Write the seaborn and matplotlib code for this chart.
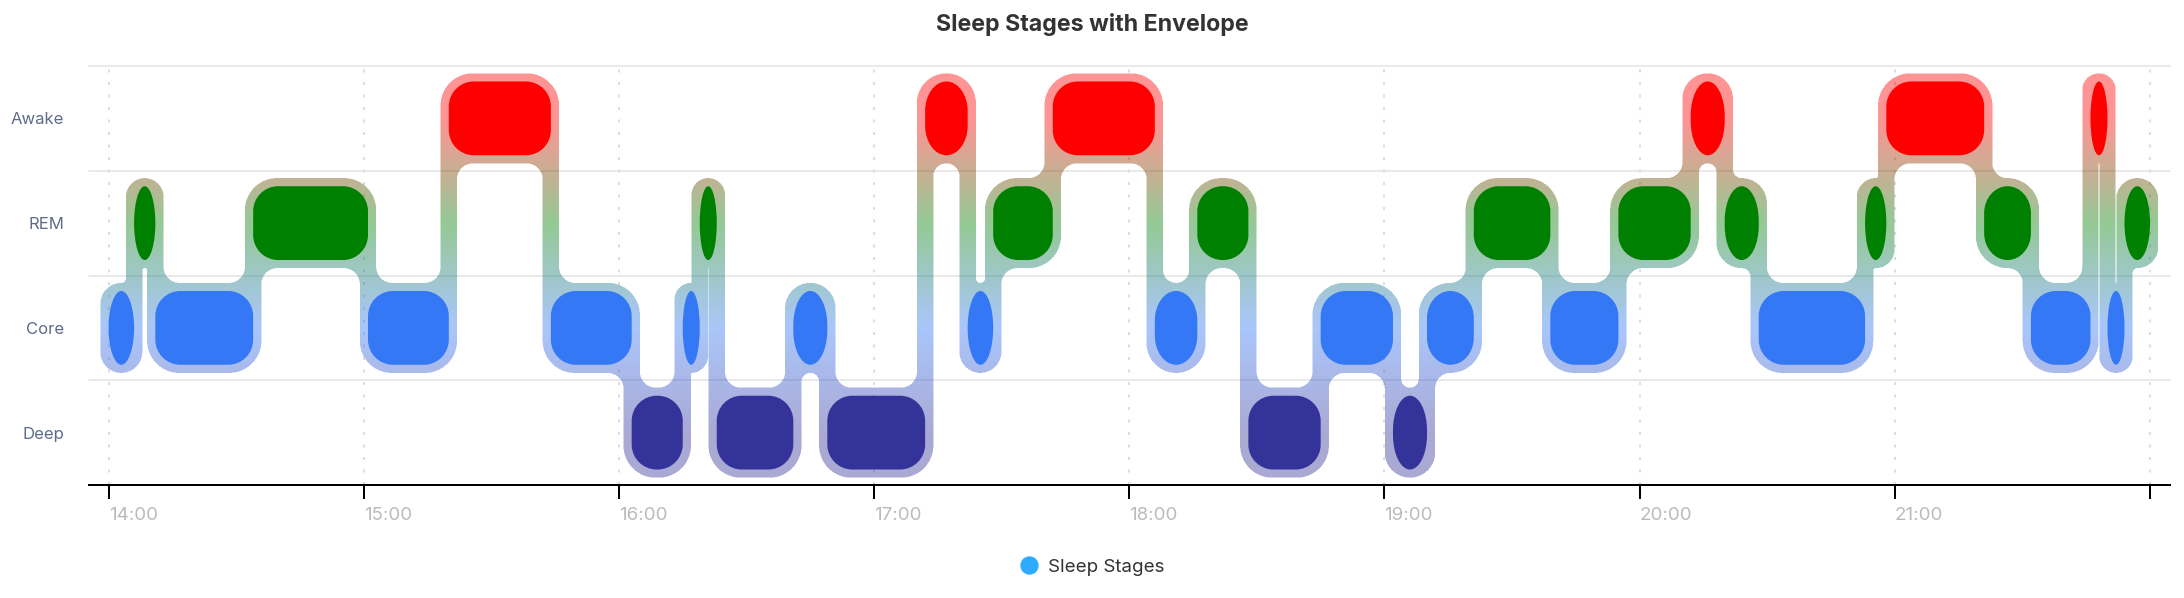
import numpy as np
import pandas as pd
import matplotlib
matplotlib.use("Agg")
import matplotlib.pyplot as plt
from matplotlib.path import Path
from matplotlib.patches import PathPatch
from matplotlib.lines import Line2D
import seaborn as sns

# stages, bottom -> top
stage_names = ["Deep", "Core", "REM", "Awake"]
stage_colors = ["#333399", "#3478f6", "#008000", "#ff0000"]

# sleep segments (start time + stage), last one ends at seg_end
seg_start = ["14:00", "14:06", "14:11", "14:34", "15:01", "15:20", "15:44", "16:03",
             "16:15", "16:19", "16:23", "16:41", "16:49", "17:12", "17:22", "17:28",
             "17:42", "18:06", "18:16", "18:28", "18:45", "19:02", "19:10", "19:21",
             "19:39", "19:55", "20:12", "20:20", "20:28", "20:53", "20:58", "21:21",
             "21:32", "21:46", "21:50", "21:54"]
seg_stage = ["Core", "REM", "Core", "REM", "Core", "Awake", "Core", "Deep",
             "Core", "REM", "Deep", "Core", "Deep", "Awake", "Core", "REM",
             "Awake", "Core", "REM", "Deep", "Core", "Deep", "Core", "REM",
             "Core", "REM", "Awake", "REM", "Core", "REM", "Awake", "REM",
             "Core", "Awake", "Core", "REM"]
seg_end = "22:00"
hour_labels = ["14:00", "15:00", "16:00", "17:00", "18:00", "19:00", "20:00", "21:00", "22:00"]

sns.set_style("white")
plt.rcParams["font.family"] = ["Inter", "DejaVu Sans"]

t0 = pd.Timestamp("2024-01-01 " + seg_start[0])
def to_min(s):
    return (pd.Timestamp("2024-01-01 " + s) - t0).total_seconds() / 60

starts = np.array([to_min(s) for s in seg_start])
ends = np.append(starts[1:], to_min(seg_end))
rows = np.array([stage_names.index(s) for s in seg_stage])
hour_pos = [to_min(h) for h in hour_labels]

W_PX, H_PX, DPI = 2184, 598, 100
fig = plt.figure(figsize=(W_PX / DPI, H_PX / DPI), dpi=DPI)
ax_l, ax_r, ax_t, ax_b = 89, 2170, 66, 485
ax_w, ax_h = ax_r - ax_l, ax_b - ax_t
ax = fig.add_axes([ax_l / W_PX, 1 - ax_b / H_PX, ax_w / W_PX, ax_h / H_PX])

x_lo, x_hi = -4.6, 484.7
y_lo, y_hi = -0.5, 3.5
sx = ax_w / (x_hi - x_lo)   # px per minute
sy = ax_h / (y_hi - y_lo)   # px per stage row

# ---- envelope mask (raster, supersampled) ----
SS = 2
gw, gh = ax_w * SS, ax_h * SS
mask = np.zeros((gh, gw), bool)
PAD, HALF, R_ENV, R_FIL = 8.2 * SS, 45 * SS, 32 * SS, 16 * SS

def gx(t):
    return (t - x_lo) * sx * SS

def gy(v):
    return (y_hi - v) * sy * SS

def window(x0, x1, y0, y1):
    j0 = max(int(np.floor(x0)), 0); j1 = min(int(np.ceil(x1)) + 1, gw)
    i0 = max(int(np.floor(y0)), 0); i1 = min(int(np.ceil(y1)) + 1, gh)
    xs = np.arange(j0, j1)[None, :] + 0.5
    ys = np.arange(i0, i1)[:, None] + 0.5
    return i0, i1, j0, j1, xs, ys

def fill_box(x0, x1, y0, y1, corners):
    i0, i1, j0, j1, xs, ys = window(x0, x1, y0, y1)
    inside = (xs >= x0) & (xs <= x1) & (ys >= y0) & (ys <= y1)
    for key, r in corners.items():
        if r <= 0:
            continue
        cx = x0 + r if key[1] == "l" else x1 - r
        cy = y0 + r if key[0] == "t" else y1 - r
        inx = xs < cx if key[1] == "l" else xs > cx
        iny = ys < cy if key[0] == "t" else ys > cy
        out = (xs - cx) ** 2 + (ys - cy) ** 2 > r * r
        inside &= ~(inx & iny & out)
    mask[i0:i1, j0:j1] |= inside

def fill_rect(x0, x1, y0, y1):
    fill_box(x0, x1, y0, y1, {})

def fillet(cx, cy, dx, dy, r):
    if r <= 0.5:
        return
    xa, xb = sorted([cx, cx + dx * r]); ya, yb = sorted([cy, cy + dy * r])
    i0, i1, j0, j1, xs, ys = window(xa, xb, ya, yb)
    ccx, ccy = cx + dx * r, cy + dy * r
    reg = (xs >= xa) & (xs <= xb) & (ys >= ya) & (ys <= yb) & \
          ((xs - ccx) ** 2 + (ys - ccy) ** 2 >= r * r)
    mask[i0:i1, j0:j1] |= reg

n = len(starts)
for k in range(n):
    x0, x1 = gx(starts[k]) - PAD, gx(ends[k]) + PAD
    yc = gy(rows[k])
    r = min(R_ENV, (x1 - x0) / 2, HALF)
    corners = {"tl": r, "tr": r, "bl": r, "br": r}
    if k > 0:
        corners["tl" if rows[k - 1] > rows[k] else "bl"] = 0
    if k < n - 1:
        corners["tr" if rows[k + 1] > rows[k] else "br"] = 0
    fill_box(x0, x1, yc - HALF, yc + HALF, corners)

for k in range(n - 1):
    t = gx(ends[k]); xl, xr = t - PAD, t + PAD
    ya, yb = gy(rows[k]), gy(rows[k + 1])
    fill_rect(xl, xr, min(ya, yb), max(ya, yb))
    down = rows[k + 1] < rows[k]
    sgn = 1 if down else -1
    a0, a1 = gx(starts[k]) - PAD, gx(ends[k]) + PAD
    if k > 0 and (rows[k - 1] < rows[k]) == down:
        avail = (xl - (a0 + 2 * PAD)) / 2
    else:
        avail = xl - (a0 + min(R_ENV, (a1 - a0) / 2))
    fillet(xl, ya + sgn * HALF, -1, sgn, min(R_FIL, avail))
    b0, b1 = gx(starts[k + 1]) - PAD, gx(ends[k + 1]) + PAD
    if k + 1 < n - 1 and (rows[k + 2] > rows[k + 1]) == down:
        avail = ((b1 - 2 * PAD) - xr) / 2
    else:
        avail = (b1 - min(R_ENV, (b1 - b0) / 2)) - xr
    fillet(xr, yb - sgn * HALF, 1, -sgn, min(R_FIL, avail))

cover = mask.reshape(ax_h, SS, ax_w, SS).mean(axis=(1, 3))
rgb_stops = np.array([matplotlib.colors.to_rgb(c) for c in stage_colors])
v = y_hi - (np.arange(ax_h) + 0.5) / sy
rgb = np.stack([np.interp(v, np.arange(4), rgb_stops[:, c]) for c in range(3)], axis=1)
img = np.zeros((ax_h, ax_w, 4))
img[..., :3] = rgb[:, None, :]
img[..., 3] = 0.42 * cover
ax.imshow(img, extent=(x_lo, x_hi, y_lo, y_hi), origin="upper", aspect="auto",
          interpolation="nearest", zorder=2)

# ---- inner stage boxes ----
K = 0.5523
def rounded_path(x0, x1, y0, y1, rx, ry):
    verts = [(x0 + rx, y0), (x1 - rx, y0),
             (x1 - rx + K * rx, y0), (x1, y0 + ry - K * ry), (x1, y0 + ry),
             (x1, y1 - ry),
             (x1, y1 - ry + K * ry), (x1 - rx + K * rx, y1), (x1 - rx, y1),
             (x0 + rx, y1),
             (x0 + rx - K * rx, y1), (x0, y1 - ry + K * ry), (x0, y1 - ry),
             (x0, y0 + ry),
             (x0, y0 + ry - K * ry), (x0 + rx - K * rx, y0), (x0 + rx, y0),
             (x0 + rx, y0)]
    codes = [Path.MOVETO, Path.LINETO] + [Path.CURVE4] * 3 + [Path.LINETO] + \
            [Path.CURVE4] * 3 + [Path.LINETO] + [Path.CURVE4] * 3 + [Path.LINETO] + \
            [Path.CURVE4] * 3 + [Path.CLOSEPOLY]
    return Path(verts, codes)

HI, R_IN = 36.9, 25
for k in range(n):
    w = (ends[k] - starts[k]) * sx
    rx = min(R_IN, w / 2)
    ry = R_IN if w >= 2 * R_IN else min(HI, R_IN + 0.6 * (2 * R_IN - w))
    p = rounded_path(starts[k], ends[k], rows[k] - HI / sy, rows[k] + HI / sy, rx / sx, ry / sy)
    ax.add_patch(PathPatch(p, facecolor=stage_colors[rows[k]], edgecolor="none", zorder=3))

# ---- grid / axes ----
for yv in [0.5, 1.5, 2.5, 3.5]:
    ax.axhline(yv, color="#e3e3e3", lw=1.1, zorder=1, clip_on=False)
for xv in hour_pos:
    ax.axvline(xv, color="#dddddd", lw=1.44, ls=(0, (1.5, 4.75)), zorder=1)

ax.set_xlim(x_lo, x_hi)
ax.set_ylim(y_lo, y_hi)
ax.set_xticks(hour_pos, hour_labels[:-1] + [""])
for lab in ax.get_xticklabels():
    lab.set_horizontalalignment("left")
ax.tick_params(axis="x", length=10, width=1.44, color="black", direction="out",
               labelsize=13.5, labelcolor="#bbbbbb", pad=6, bottom=True)
ax.set_yticks(range(4), stage_names)
ax.tick_params(axis="y", length=0, labelsize=12, labelcolor="#5e6c8a", pad=18)
sns.despine(ax=ax, left=True, top=True, right=True)
ax.spines["bottom"].set_color("black")
ax.spines["bottom"].set_linewidth(1.44)
ax.grid(False)

fig.suptitle("Sleep Stages with Envelope", fontsize=16.7, fontweight="bold",
             color="#333333", y=1 - 24 / H_PX, va="center")
handle = Line2D([], [], marker="o", ls="", markersize=12.2,
                markerfacecolor="#2eaaff", markeredgecolor="#2eaaff")
fig.legend([handle], ["Sleep Stages"], loc="center", bbox_to_anchor=(0.5, 1 - 567 / H_PX),
           frameon=False, fontsize=13.5, handlelength=1.0, handletextpad=0.55,
           labelcolor="#333333")

fig.savefig("out.png", dpi=DPI, facecolor="white")
